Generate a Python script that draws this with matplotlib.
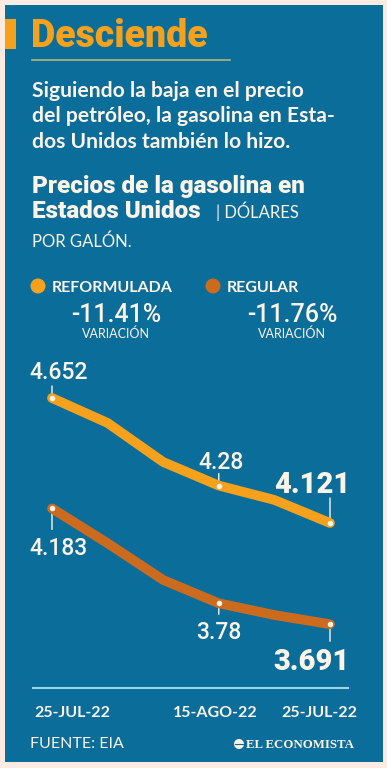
import matplotlib
matplotlib.use('Agg')
import matplotlib.pyplot as plt
from matplotlib.patches import Rectangle, Circle

# ---------------- data ----------------
dates = ['25-JUL-22', '01-AGO-22', '08-AGO-22', '15-AGO-22', '22-AGO-22', '29-AGO-22']
reformulada = [4.652, 4.546, 4.380, 4.28, 4.219, 4.121]
regular = [4.183, 4.035, 3.879, 3.78, 3.730, 3.691]
tick_idx = [0, 3, 5]
tick_labels = ['25-JUL-22', '15-AGO-22', '25-JUL-22']
label_idx = [0, 3, 5]
series_names = ['REFORMULADA', 'REGULAR']
variaciones = ['-11.41%', '-11.76%']

# ---------------- style ----------------
CREAM = '#FBEBE0'
BLUE = '#0A6D9A'
ORANGE = '#F6A11C'
DORANGE = '#CC6A1E'
TXT = '#FDF3E7'
FONT = ['Lato', 'DejaVu Sans']
HEAVY = ['Roboto', 'DejaVu Sans']
plt.rcParams['font.family'] = FONT

W, H = 387, 768
fig = plt.figure(figsize=(W / 100, H / 100), dpi=100, facecolor=CREAM)

# pixel-coordinate overlay axes (y from top)
bg = fig.add_axes([0, 0, 1, 1])
bg.set_xlim(0, W)
bg.set_ylim(H, 0)
bg.axis('off')
bg.add_patch(Rectangle((5, 5), 378, 757, facecolor=BLUE, edgecolor='none'))
bg.add_patch(Rectangle((5, 19), 11, 30, facecolor=ORANGE, edgecolor='none'))

bg.text(31, 47, 'Desciende', color=ORANGE, fontsize=27, fontweight='black', family=HEAVY,
        va='baseline', ha='left')
bg.plot([32, 230], [60, 60], color='#B8B27E', lw=1.2)

sub = ['Siguiendo la baja en el precio', 'del petróleo, la gasolina en Esta-', 'dos Unidos también lo hizo.']
for k, s in enumerate(sub):
    bg.text(32, 97 + k * 25.5, s, color=TXT, fontsize=15.2, fontweight='bold', va='baseline', ha='left')

bg.text(32, 193, 'Precios de la gasolina en', color=TXT, fontsize=17.5, fontweight='black',
        family=HEAVY, va='baseline')
bg.text(32, 218, 'Estados Unidos', color=TXT, fontsize=17.5, fontweight='black', family=HEAVY,
        va='baseline')
bg.text(216, 218, '| DÓLARES', color=TXT, fontsize=12, va='baseline')
bg.text(32, 247, 'POR GALÓN.', color=TXT, fontsize=12, va='baseline')

# legend blocks
for (cx, name, var, col, vcx) in [(38, series_names[0], variaciones[0], ORANGE, 116),
                                  (213, series_names[1], variaciones[1], DORANGE, 292)]:
    bg.add_patch(Circle((cx, 286), 7.5, facecolor=col, edgecolor='none'))
    bg.text(cx + 14, 292, name, color=TXT, fontsize=11.5, fontweight='bold', va='baseline')
    bg.text(vcx, 322, var, color=TXT, fontsize=18, fontweight='medium', family=HEAVY,
            va='baseline', ha='center')
    bg.text(vcx, 338, 'VARIACIÓN', color=TXT, fontsize=9, va='baseline', ha='center')

# axis line and footer
bg.plot([33, 348], [688, 688], color='#9ED3EA', lw=1.5)
bg.text(30, 748, 'FUENTE: EIA', color=TXT, fontsize=11.5, va='baseline')
bg.add_patch(Circle((239, 744), 5, facecolor=TXT, edgecolor='none'))
bg.plot([234.5, 243.5], [744, 744], color=BLUE, lw=0.8)
bg.text(246, 748, 'EL ECONOMISTA', color=TXT, fontsize=9.3, fontweight='bold',
        family='Liberation Serif', va='baseline')

# ---------------- data axes ----------------
ax = fig.add_axes([0, 0, 1, 1])
ax.patch.set_alpha(0)
ax.axis('off')
# pixel x = 52 + i*55.6 ; pixel y = 398 + (4.652 - p)*235.4
ax.set_xlim(-52 / 55.6, (W - 52) / 55.6)
ax.set_ylim(4.652 - (H - 398) / 235.4, 4.652 + 398 / 235.4)

xs = list(range(len(dates)))
for ys, col in [(reformulada, ORANGE), (regular, DORANGE)]:
    ax.plot(xs, ys, color=col, lw=7, solid_capstyle='round', solid_joinstyle='round', zorder=3)
    ax.plot([xs[i] for i in label_idx], [ys[i] for i in label_idx], 'o', ms=4,
            color=TXT, mec='none', zorder=4)

# leaders (pixel lengths, negative = up) and labels
ref_lead = [-12, -12, -25]
ref_txt = [(7, 19, 16.5, 'medium'), (2, 17, 16.5, 'medium'), (-18, 30, 21, 'black')]
reg_lead = [21, 11, 17]
reg_txt = [(7, -47, 16.5, 'medium'), (0, -36, 16.5, 'medium'), (-18, -46, 21, 'black')]

for ys, leads, txts in [(reformulada, ref_lead, ref_txt), (regular, reg_lead, reg_txt)]:
    for j, i in enumerate(label_idx):
        ax.annotate('', xy=(xs[i], ys[i]), xytext=(0, -leads[j]), textcoords='offset pixels',
                    arrowprops=dict(arrowstyle='-', color=TXT, lw=1, shrinkA=0, shrinkB=0), zorder=2)
        dx, dy, fs, fw = txts[j]
        ax.annotate(f'{ys[i]:g}', xy=(xs[i], ys[i]), xytext=(dx, dy), textcoords='offset pixels',
                    ha='center', va='baseline', color=TXT, fontsize=fs, fontweight=fw,
                    family=HEAVY, zorder=5)

# x tick labels
tick_y = 4.652 - (717 - 398) / 235.4
for i, t, dx in zip(tick_idx, tick_labels, [20, -3, -11]):
    ax.annotate(t, xy=(xs[i], tick_y), xytext=(dx, 0), textcoords='offset pixels',
                ha='center', va='baseline', color=TXT, fontsize=11.5, fontweight='bold')

fig.savefig('out.png', dpi=100, facecolor=CREAM)
